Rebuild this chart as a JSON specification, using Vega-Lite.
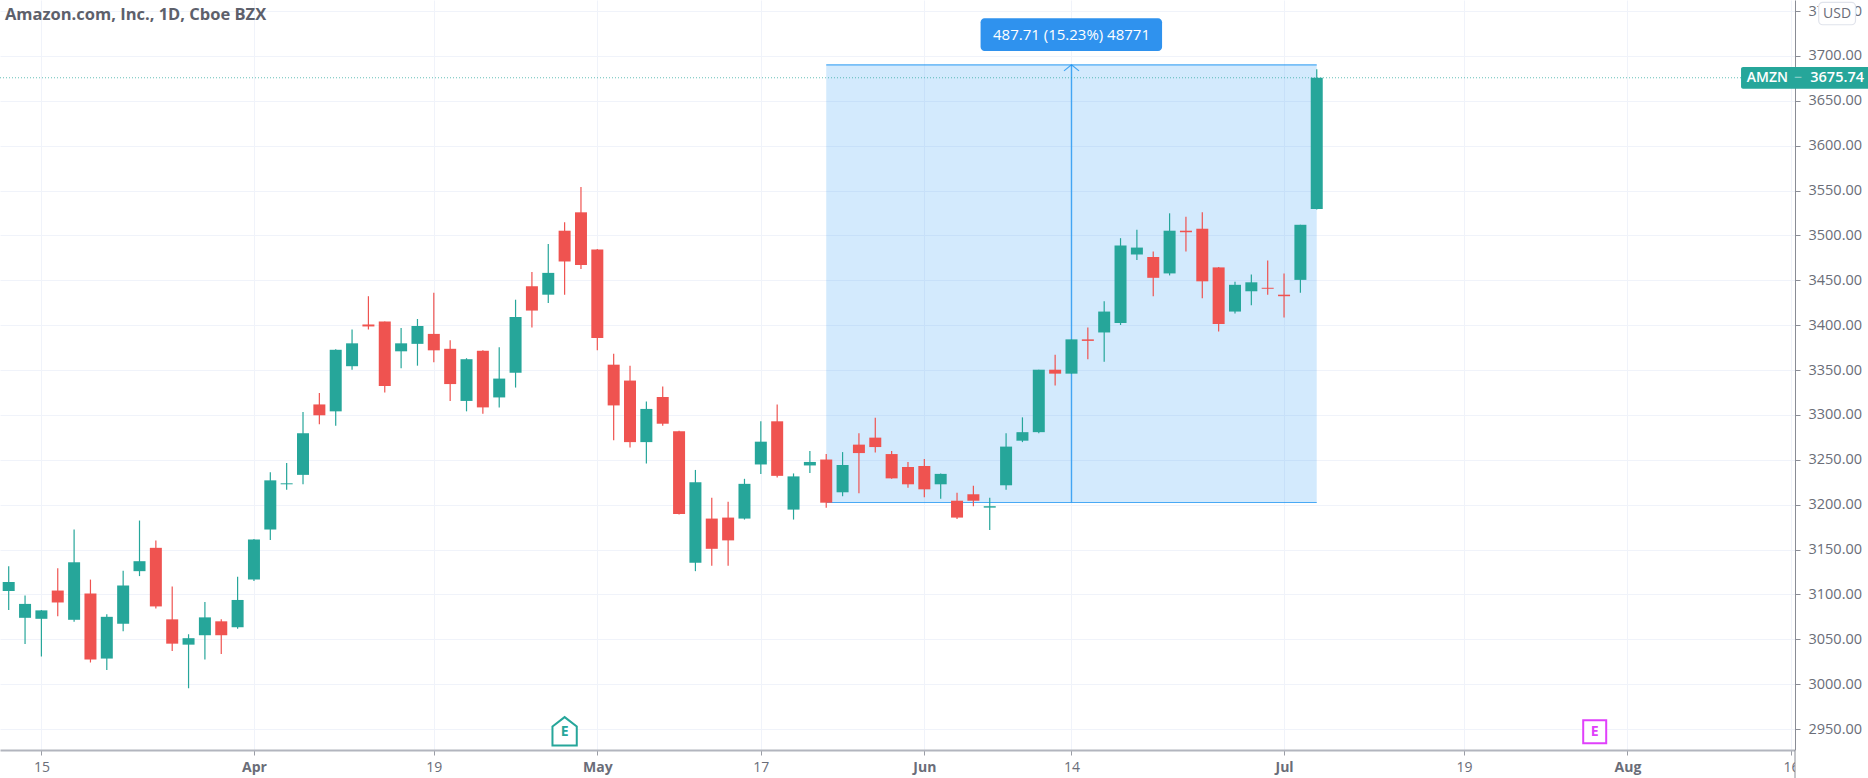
{"$schema":"https://vega.github.io/schema/vega-lite/v6.json","width":1795,"height":750,"autosize":"none","padding":{"left":0,"top":0,"right":73,"bottom":28},"background":"white","config":{"view":{"stroke":null},"text":{"font":"Open Sans"},"axis":{"labelFont":"Open Sans"}},
"datasets":{"bars":[
{"bar":0,"dir":"up","open":3103.8,"high":3131.4,"low":3082.7,"close":3113.7},
{"bar":1,"dir":"up","open":3073.9,"high":3098.8,"low":3044.6,"close":3089.4},
{"bar":2,"dir":"up","open":3072.8,"high":3082.7,"low":3030.7,"close":3082.2},
{"bar":3,"dir":"down","open":3104.3,"high":3129.2,"low":3075.6,"close":3091},
{"bar":4,"dir":"up","open":3071.7,"high":3172.3,"low":3069.5,"close":3135.8},
{"bar":5,"dir":"down","open":3101,"high":3116.5,"low":3024.1,"close":3027.4},
{"bar":6,"dir":"up","open":3028.5,"high":3077.8,"low":3015.8,"close":3075},
{"bar":7,"dir":"up","open":3067.3,"high":3126.4,"low":3059,"close":3109.8},
{"bar":8,"dir":"up","open":3125.9,"high":3182.3,"low":3120.4,"close":3137},
{"bar":9,"dir":"down","open":3151.9,"high":3160.2,"low":3084.4,"close":3086.6},
{"bar":10,"dir":"down","open":3072.2,"high":3108.7,"low":3036.8,"close":3045.1},
{"bar":11,"dir":"up","open":3044,"high":3055.6,"low":2995.4,"close":3051.2},
{"bar":12,"dir":"up","open":3054.5,"high":3091.6,"low":3027.4,"close":3074.4},
{"bar":13,"dir":"down","open":3070,"high":3072.2,"low":3033.5,"close":3054.5},
{"bar":14,"dir":"up","open":3063.4,"high":3119.8,"low":3061.7,"close":3093.8},
{"bar":15,"dir":"up","open":3116.5,"high":3161.8,"low":3114.8,"close":3161.3},
{"bar":16,"dir":"up","open":3172.3,"high":3236,"low":3160.7,"close":3227.1},
{"bar":17,"dir":"up","open":3222.7,"high":3246.5,"low":3216.6,"close":3223.8},
{"bar":18,"dir":"up","open":3233.2,"high":3303.4,"low":3222.7,"close":3279.6},
{"bar":19,"dir":"down","open":3311.7,"high":3324.4,"low":3289.6,"close":3299.6},
{"bar":20,"dir":"up","open":3304,"high":3373.1,"low":3288,"close":3372.6},
{"bar":21,"dir":"up","open":3354.3,"high":3395.2,"low":3350.4,"close":3379.8},
{"bar":22,"dir":"down","open":3400.8,"high":3432.3,"low":3395.2,"close":3398.6},
{"bar":23,"dir":"down","open":3404.1,"high":3404.1,"low":3325,"close":3332.2},
{"bar":24,"dir":"up","open":3370.9,"high":3396.9,"low":3352.1,"close":3379.8},
{"bar":25,"dir":"up","open":3379.2,"high":3406.9,"low":3354.9,"close":3399.1},
{"bar":26,"dir":"down","open":3390.3,"high":3436.2,"low":3358.7,"close":3372},
{"bar":27,"dir":"down","open":3373.7,"high":3383.1,"low":3315.6,"close":3334.4},
{"bar":28,"dir":"up","open":3315.6,"high":3363.2,"low":3304,"close":3362.1},
{"bar":29,"dir":"down","open":3371.5,"high":3372,"low":3301.2,"close":3308.4},
{"bar":30,"dir":"up","open":3319.5,"high":3375.3,"low":3308.4,"close":3340.5},
{"bar":31,"dir":"up","open":3347.1,"high":3428.4,"low":3330.5,"close":3409.1},
{"bar":32,"dir":"down","open":3443.4,"high":3459.4,"low":3397.5,"close":3416.3},
{"bar":33,"dir":"up","open":3434,"high":3490.4,"low":3424.6,"close":3458.3},
{"bar":34,"dir":"down","open":3505.3,"high":3514.7,"low":3434,"close":3471},
{"bar":35,"dir":"down","open":3525.8,"high":3554,"low":3462.7,"close":3467.1},
{"bar":36,"dir":"down","open":3484.3,"high":3484.8,"low":3372,"close":3385.8},
{"bar":37,"dir":"down","open":3356,"high":3368.1,"low":3271.9,"close":3310.6},
{"bar":38,"dir":"down","open":3338.3,"high":3354.9,"low":3263.6,"close":3269.7},
{"bar":39,"dir":"up","open":3269.7,"high":3315,"low":3245.9,"close":3306.7},
{"bar":40,"dir":"down","open":3320,"high":3331.6,"low":3288,"close":3290.2},
{"bar":41,"dir":"down","open":3281.9,"high":3282.4,"low":3189,"close":3189.5},
{"bar":42,"dir":"up","open":3135.3,"high":3238.7,"low":3125.9,"close":3224.9},
{"bar":43,"dir":"down","open":3184.5,"high":3207.7,"low":3132,"close":3150.8},
{"bar":44,"dir":"down","open":3185.6,"high":3203.3,"low":3132,"close":3160.2},
{"bar":45,"dir":"up","open":3184.5,"high":3228.8,"low":3183.4,"close":3223.2},
{"bar":46,"dir":"up","open":3244.8,"high":3292.9,"low":3234.3,"close":3270.2},
{"bar":47,"dir":"down","open":3292.9,"high":3311.7,"low":3230.4,"close":3232.1},
{"bar":48,"dir":"up","open":3194.5,"high":3234.8,"low":3183.4,"close":3231.5},
{"bar":49,"dir":"up","open":3243.7,"high":3259.7,"low":3235.4,"close":3247.6},
{"bar":50,"dir":"down","open":3250.3,"high":3256.4,"low":3196.7,"close":3202.2},
{"bar":51,"dir":"up","open":3213.8,"high":3258.6,"low":3209.4,"close":3244.2},
{"bar":52,"dir":"down","open":3266.9,"high":3279.6,"low":3212.7,"close":3257.5},
{"bar":53,"dir":"down","open":3274.7,"high":3296.8,"low":3258.1,"close":3264.2},
{"bar":54,"dir":"down","open":3256.4,"high":3259.7,"low":3229,"close":3229.3},
{"bar":55,"dir":"down","open":3242,"high":3247.6,"low":3218.8,"close":3222.7},
{"bar":56,"dir":"down","open":3243.1,"high":3250.9,"low":3208.3,"close":3217.1},
{"bar":57,"dir":"up","open":3222.7,"high":3234.8,"low":3206.6,"close":3234.3},
{"bar":58,"dir":"down","open":3204.4,"high":3213.3,"low":3184,"close":3185.6},
{"bar":59,"dir":"down","open":3211.6,"high":3221,"low":3198.3,"close":3204.4},
{"bar":60,"dir":"up","open":3196.7,"high":3207.7,"low":3171.8,"close":3198.3},
{"bar":61,"dir":"up","open":3221.6,"high":3279.6,"low":3216.6,"close":3264.7},
{"bar":62,"dir":"up","open":3271.3,"high":3297.3,"low":3269.7,"close":3280.8},
{"bar":63,"dir":"up","open":3280.8,"high":3350.4,"low":3279.6,"close":3350.4},
{"bar":64,"dir":"down","open":3350.4,"high":3367,"low":3332.7,"close":3346},
{"bar":65,"dir":"up","open":3346,"high":3384.2,"low":3346,"close":3384.2},
{"bar":66,"dir":"down","open":3384.2,"high":3397.5,"low":3362.1,"close":3382.5},
{"bar":67,"dir":"up","open":3391.9,"high":3426.8,"low":3359.3,"close":3415.2},
{"bar":68,"dir":"up","open":3402.4,"high":3497,"low":3400.2,"close":3488.7},
{"bar":69,"dir":"up","open":3478.8,"high":3506.4,"low":3472.7,"close":3486.5},
{"bar":70,"dir":"down","open":3476,"high":3482.1,"low":3432.3,"close":3452.8},
{"bar":71,"dir":"up","open":3457.7,"high":3524.7,"low":3455.5,"close":3505.3},
{"bar":72,"dir":"down","open":3505.3,"high":3520.8,"low":3482.1,"close":3503.6},
{"bar":73,"dir":"down","open":3507.5,"high":3525.8,"low":3430.1,"close":3448.9},
{"bar":74,"dir":"down","open":3464.4,"high":3464.9,"low":3393,"close":3401.3},
{"bar":75,"dir":"up","open":3415.2,"high":3448.3,"low":3412.9,"close":3445},
{"bar":76,"dir":"up","open":3437.8,"high":3456.6,"low":3422.3,"close":3447.8},
{"bar":77,"dir":"down","open":3441.7,"high":3472.1,"low":3434,"close":3440.6},
{"bar":78,"dir":"down","open":3434,"high":3457.7,"low":3408.5,"close":3432.3},
{"bar":79,"dir":"up","open":3450.5,"high":3511.9,"low":3436.2,"close":3511.9},
{"bar":80,"dir":"up","open":3529.6,"high":3685.1,"low":3529,"close":3675.74}
]},
"layer":[
{"data":{"values":[{"x1":50,"x2":80,"p1":3202.4,"p2":3690.1}]},"mark":{"type":"rect","fill":"#2196f3","fillOpacity":0.2},
"encoding":{
"x":{"field":"x1","type":"quantitative","title":null,"scale":{"domain":[-0.532,109.25],"nice":false,"zero":false,"padding":0},
"axis":{"orient":"bottom","values":[2,15,26,36,46,56,65,78,89,99,109],"labelExpr":"{'2':'15','15':'Apr','26':'19','36':'May','46':'17','56':'Jun','65':'14','78':'Jul','89':'19','99':'Aug','109':'16'}[''+datum.value]","labelFontSize":14,"labelColor":"#6a6d78","labelFontWeight":{"condition":{"test":"indexof([15,36,56,78,99],datum.value)>=0","value":"bold"},"value":"normal"},"labelPadding":5,"labelFlush":false,"labelOverlap":false,"labelBound":false,"tickSize":5,"tickColor":"#9a9da6","domainColor":"#b2b5be","domainWidth":2,"grid":true,"gridColor":"#f0f3fa","gridWidth":1}},
"x2":{"field":"x2"},
"y":{"field":"p1","type":"quantitative","title":null,"scale":{"domain":[2926.6,3762.4],"nice":false,"zero":false},
"axis":{"orient":"right","values":[2950,3000,3050,3100,3150,3200,3250,3300,3350,3400,3450,3500,3550,3600,3650,3700,3750],"format":".2f","labelFontSize":14.5,"labelColor":"#6a6d78","labelPadding":8,"labelOverlap":false,"labelBound":false,"labelFlush":false,"tickSize":5,"tickColor":"#8a8d96","domainColor":"#8a8d96","domainWidth":1,"grid":true,"gridColor":"#f0f3fa","gridWidth":1}},
"y2":{"field":"p2"}}},
{"data":{"values":[{"x1":50,"x2":80,"p":3202.4},{"x1":50,"x2":80,"p":3690.1}]},"mark":{"type":"rule","color":"#2196f3","strokeWidth":1.2,"opacity":0.8},
"encoding":{"x":{"field":"x1","type":"quantitative","title":null},"x2":{"field":"x2"},"y":{"field":"p","type":"quantitative","title":null}}},
{"data":{"values":[{"x":65,"p1":3202.4,"p2":3690.1}]},"mark":{"type":"rule","color":"#2196f3","strokeWidth":1.4,"opacity":0.8},
"encoding":{"x":{"field":"x","type":"quantitative","title":null},"y":{"field":"p1","type":"quantitative","title":null},"y2":{"field":"p2"}}},
{"data":{"values":[{"x":65,"p":3690.1}]},"mark":{"type":"point","shape":"M-1,0.8L0,0L1,0.8","filled":false,"size":225,"stroke":"#2196f3","strokeWidth":1.2,"opacity":0.8},
"encoding":{"x":{"field":"x","type":"quantitative","title":null},"y":{"field":"p","type":"quantitative","title":null}}},
{"data":{"values":[{"x1":-0.532,"x2":106,"p":3675.74}]},"mark":{"type":"rule","color":"#26a69a","strokeWidth":1,"strokeDash":[1,2],"opacity":0.7},
"encoding":{"x":{"field":"x1","type":"quantitative","title":null},"x2":{"field":"x2"},"y":{"field":"p","type":"quantitative","title":null}}},
{"data":{"name":"bars"},"mark":{"type":"rule","strokeWidth":1.2},
"encoding":{"x":{"field":"bar","type":"quantitative","title":null},"y":{"field":"low","type":"quantitative","title":null},"y2":{"field":"high"},"color":{"field":"dir","type":"nominal","legend":null,"scale":{"domain":["up","down"],"range":["#26a69a","#ef5350"]}}}},
{"data":{"name":"bars"},"mark":{"type":"bar","size":12,"orient":"vertical"},
"encoding":{"x":{"field":"bar","type":"quantitative","title":null},"y":{"field":"open","type":"quantitative","title":null},"y2":{"field":"close"},"color":{"field":"dir","type":"nominal","legend":null}}},
{"data":{"values":[{"x1":59.44,"x2":70.54,"p1":3705.5,"p2":3742}]},"mark":{"type":"rect","fill":"#2f92ee","cornerRadius":4},
"encoding":{"x":{"field":"x1","type":"quantitative","title":null},"x2":{"field":"x2"},"y":{"field":"p1","type":"quantitative","title":null},"y2":{"field":"p2"}}},
{"data":{"values":[{"x":65,"p":3723.8,"label":"487.71 (15.23%) 48771"}]},"mark":{"type":"text","color":"white","fontSize":15,"fontWeight":500,"align":"center","baseline":"middle"},
"encoding":{"x":{"field":"x","type":"quantitative","title":null},"y":{"field":"p","type":"quantitative","title":null},"text":{"field":"label"}}},
{"data":{"values":[{"x1":109.25,"x2":113.72,"p1":2895.4,"p2":2926}]},"mark":{"type":"rect","fill":"white"},
"encoding":{"x":{"field":"x1","type":"quantitative","title":null},"x2":{"field":"x2"},"y":{"field":"p1","type":"quantitative","title":null},"y2":{"field":"p2"}}},
{"data":{"values":[{"x":109.25,"p1":2895.4,"p2":2926.6}]},"mark":{"type":"rule","color":"#8a8d96","strokeWidth":1},
"encoding":{"x":{"field":"x","type":"quantitative","title":null},"y":{"field":"p1","type":"quantitative","title":null},"y2":{"field":"p2"}}},
{"data":{"values":[{"x1":105.95,"x2":113.72,"p1":3663.5,"p2":3687.8}]},"mark":{"type":"rect","fill":"#26a69a","cornerRadiusTopLeft":2,"cornerRadiusBottomLeft":2},
"encoding":{"x":{"field":"x1","type":"quantitative","title":null},"x2":{"field":"x2"},"y":{"field":"p1","type":"quantitative","title":null},"y2":{"field":"p2"}}},
{"data":{"values":[{"x":106.3,"p":3675.74,"label":"AMZN"}]},"mark":{"type":"text","color":"white","fontSize":14,"fontWeight":600,"align":"left","baseline":"middle"},
"encoding":{"x":{"field":"x","type":"quantitative","title":null},"y":{"field":"p","type":"quantitative","title":null},"text":{"field":"label"}}},
{"data":{"values":[{"x":109.45,"p":3675.74,"label":"−"}]},"mark":{"type":"text","color":"white","opacity":0.5,"fontSize":14,"align":"center","baseline":"middle"},
"encoding":{"x":{"field":"x","type":"quantitative","title":null},"y":{"field":"p","type":"quantitative","title":null},"text":{"field":"label"}}},
{"data":{"values":[{"x":113.47,"p":3675.74,"label":"3675.74"}]},"mark":{"type":"text","color":"white","fontSize":14.5,"fontWeight":600,"align":"right","baseline":"middle"},
"encoding":{"x":{"field":"x","type":"quantitative","title":null},"y":{"field":"p","type":"quantitative","title":null},"text":{"field":"label"}}},
{"data":{"values":[{"x1":110.7,"x2":112.95,"p1":3734.8,"p2":3759.7}]},"mark":{"type":"rect","fill":"white","stroke":"#e0e3eb","strokeWidth":1.2,"cornerRadius":4},
"encoding":{"x":{"field":"x1","type":"quantitative","title":null},"x2":{"field":"x2"},"y":{"field":"p1","type":"quantitative","title":null},"y2":{"field":"p2"}}},
{"data":{"values":[{"x":111.82,"p":3747,"label":"USD"}]},"mark":{"type":"text","color":"#6a6d78","fontSize":14,"align":"center","baseline":"middle"},
"encoding":{"x":{"field":"x","type":"quantitative","title":null},"y":{"field":"p","type":"quantitative","title":null},"text":{"field":"label"}}},
{"data":{"values":[{"x":-0.23,"p":3745.7,"label":"Amazon.com, Inc., 1D, Cboe BZX"}]},"mark":{"type":"text","color":"#5d606b","fontSize":16.5,"fontWeight":"bold","align":"left","baseline":"middle"},
"encoding":{"x":{"field":"x","type":"quantitative","title":null},"y":{"field":"p","type":"quantitative","title":null},"text":{"field":"label"}}},
{"data":{"values":[{"x":34,"p":2946.7}]},"mark":{"type":"point","shape":"M-0.9,-0.4L0,-1.1L0.9,-0.4L0.9,1L-0.9,1Z","filled":true,"fill":"white","stroke":"#26a69a","strokeWidth":2,"size":729,"opacity":1},
"encoding":{"x":{"field":"x","type":"quantitative","title":null},"y":{"field":"p","type":"quantitative","title":null}}},
{"data":{"values":[{"x":34,"p":2946.7,"label":"E"}]},"mark":{"type":"text","color":"#26a69a","fontSize":14,"fontWeight":"bold","align":"center","baseline":"middle"},
"encoding":{"x":{"field":"x","type":"quantitative","title":null},"y":{"field":"p","type":"quantitative","title":null},"text":{"field":"label"}}},
{"data":{"values":[{"x":97,"p":2947}]},"mark":{"type":"point","shape":"square","filled":true,"fill":"white","stroke":"#e040fb","strokeWidth":2,"size":529,"opacity":1},
"encoding":{"x":{"field":"x","type":"quantitative","title":null},"y":{"field":"p","type":"quantitative","title":null}}},
{"data":{"values":[{"x":97,"p":2947,"label":"E"}]},"mark":{"type":"text","color":"#e040fb","fontSize":14,"fontWeight":"bold","align":"center","baseline":"middle"},
"encoding":{"x":{"field":"x","type":"quantitative","title":null},"y":{"field":"p","type":"quantitative","title":null},"text":{"field":"label"}}}
]}
